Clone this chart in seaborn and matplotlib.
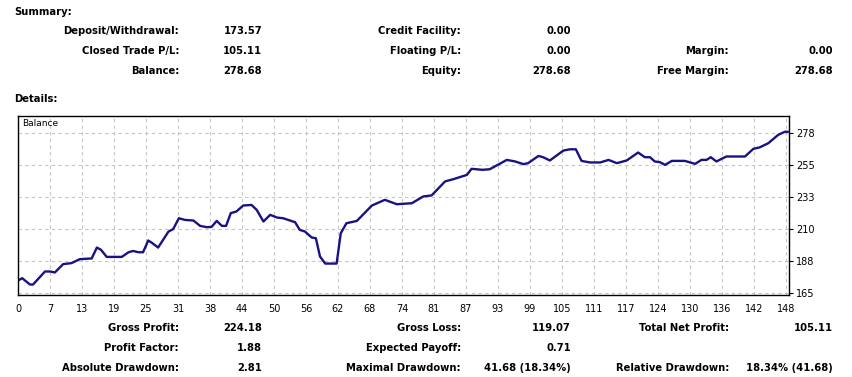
import numpy as np
import pandas as pd
import matplotlib
matplotlib.use("Agg")
import matplotlib.pyplot as plt
import seaborn as sns

# ---- data ----
trade_idx = [0, 0.8, 2.3, 2.9, 5.2, 6.2, 7.1, 8.7, 10.3, 11.9, 14.2, 15.2, 16.0, 17.1,
             20.0, 21.3, 22.2, 23.2, 24.1, 25.1, 25.9, 27.0, 29.0, 29.9, 31.0, 32.2,
             33.8, 35.1, 36.4, 37.3, 38.3, 39.3, 40.1, 41.0, 42.1, 43.4, 45.0, 46.0,
             47.3, 48.6, 49.9, 51.1, 53.4, 54.3, 55.3, 56.6, 57.4, 58.2, 59.2, 61.4,
             62.2, 63.3, 65.3, 68.2, 70.7, 73.0, 75.9, 78.1, 79.7, 82.3, 83.9, 86.5,
             87.4, 89.5, 90.9, 94.2, 95.8, 97.4, 98.3, 100.3, 101.2, 102.5, 105.1,
             106.4, 107.5, 108.6, 110.2, 112.2, 113.8, 115.4, 117.3, 119.5, 120.8,
             121.8, 122.7, 123.7, 124.7, 126.0, 128.5, 130.5, 131.7, 132.7, 133.5,
             134.6, 136.5, 140.1, 141.7, 142.9, 144.6, 146.5, 147.8, 148.4]
balance = [173.57, 175.3, 170.8, 170.8, 180.0, 180.0, 179.3, 185.2, 185.9, 188.7, 189.2,
           196.9, 195.3, 190.3, 190.3, 193.6, 194.5, 193.6, 193.6, 201.9, 200.0, 196.9,
           208.2, 209.9, 217.6, 216.4, 216.0, 212.2, 211.3, 211.5, 215.7, 212.2, 212.2,
           221.2, 222.4, 226.6, 227.0, 223.5, 215.3, 220.0, 218.1, 217.6, 214.8, 209.4,
           208.2, 204.0, 203.5, 190.6, 185.6, 185.6, 207.0, 214.1, 215.7, 226.6, 230.6,
           227.5, 228.2, 233.0, 233.7, 243.6, 245.2, 248.2, 252.5, 251.8, 252.2, 258.8,
           257.7, 255.8, 256.5, 261.6, 260.7, 258.4, 265.4, 266.3, 266.3, 258.1, 257.0,
           257.0, 258.8, 256.5, 258.4, 264.0, 260.7, 260.7, 257.7, 257.2, 255.3, 258.1,
           258.1, 256.0, 258.8, 258.8, 260.7, 257.7, 261.2, 261.2, 266.6, 267.6, 270.6,
           276.5, 278.68, 278.68]

x_tick_labels = ["0", "7", "13", "19", "25", "31", "38", "44", "50", "56", "62", "68",
                 "74", "81", "87", "93", "99", "105", "111", "117", "124", "130", "136",
                 "142", "148"]
y_tick_labels = ["165", "188", "210", "233", "255", "278"]

summary_labels = [["Deposit/Withdrawal:", "Closed Trade P/L:", "Balance:"],
                  ["Credit Facility:", "Floating P/L:", "Equity:"],
                  ["", "Margin:", "Free Margin:"]]
summary_values = [["173.57", "105.11", "278.68"],
                  ["0.00", "0.00", "278.68"],
                  ["", "0.00", "278.68"]]
detail_labels = [["Gross Profit:", "Profit Factor:", "Absolute Drawdown:"],
                 ["Gross Loss:", "Expected Payoff:", "Maximal Drawdown:"],
                 ["Total Net Profit:", "", "Relative Drawdown:"]]
detail_values = [["224.18", "1.88", "2.81"],
                 ["119.07", "0.71", "41.68 (18.34%)"],
                 ["105.11", "", "18.34% (41.68)"]]

# ---- drawing ----
sns.set_style("white")
plt.rcParams["font.family"] = ["DejaVu Sans"]
plt.rcParams["text.color"] = "black"
plt.rcParams["xtick.color"] = "black"
plt.rcParams["ytick.color"] = "black"

W, H = 852, 377
fig = plt.figure(figsize=(W / 100, H / 100), dpi=100)

def fx(px):
    return px / W

def fy(py):
    return 1 - py / H

ax = fig.add_axes([fx(18), fy(295), fx(789) - fx(18), fy(116) - fy(295)])

df = pd.DataFrame({"trade": trade_idx, "balance": balance})
sns.lineplot(data=df, x="trade", y="balance", ax=ax, color="#1a1282",
             linewidth=1.7, sort=False, legend=False)

ax.set_xlim(0, 148.58)
ymin_t, ymax_t = 165.0, 278.0
ax.set_ylim(163.4, 289.8)
ax.set_xticks(np.linspace(0, 148, len(x_tick_labels)))
ax.set_xticklabels(x_tick_labels)
ax.set_yticks(np.linspace(ymin_t, ymax_t, len(y_tick_labels)))
ax.set_yticklabels(y_tick_labels)
ax.yaxis.tick_right()
ax.tick_params(axis="y", which="both", right=True, left=False, length=3, width=0.8,
               labelsize=7, pad=2, colors="black")
ax.tick_params(axis="x", which="both", bottom=False, labelsize=7, pad=3, colors="black")
ax.set_xlabel("")
ax.set_ylabel("")
ax.grid(True, color="#c4c4c4", linestyle=(0, (3, 3)), linewidth=0.8)
for s in ax.spines.values():
    s.set_color("black")
    s.set_linewidth(1.0)
ax.text(0.005, 0.985, "Balance", transform=ax.transAxes, fontsize=6.5,
        ha="left", va="top", color="black")

fs = 7.2
fig.text(fx(14), fy(12), "Summary:", fontsize=fs, fontweight="bold", ha="left", va="center")
fig.text(fx(14), fy(99), "Details:", fontsize=fs, fontweight="bold", ha="left", va="center")

label_right = [179, 461, 729]
value_right = [262, 571, 833]
top_rows = [31.5, 51.3, 71.2]
bot_rows = [328.3, 348.3, 368.3]

for c in range(3):
    for r in range(3):
        if summary_labels[c][r]:
            fig.text(fx(label_right[c]), fy(top_rows[r]), summary_labels[c][r], fontsize=fs,
                     fontweight="bold", ha="right", va="center")
            fig.text(fx(value_right[c]), fy(top_rows[r]), summary_values[c][r], fontsize=fs,
                     fontweight="bold", ha="right", va="center")
        if detail_labels[c][r]:
            fig.text(fx(label_right[c]), fy(bot_rows[r]), detail_labels[c][r], fontsize=fs,
                     fontweight="bold", ha="right", va="center")
            fig.text(fx(value_right[c]), fy(bot_rows[r]), detail_values[c][r], fontsize=fs,
                     fontweight="bold", ha="right", va="center")

fig.savefig("out.png", dpi=100, facecolor="white")
